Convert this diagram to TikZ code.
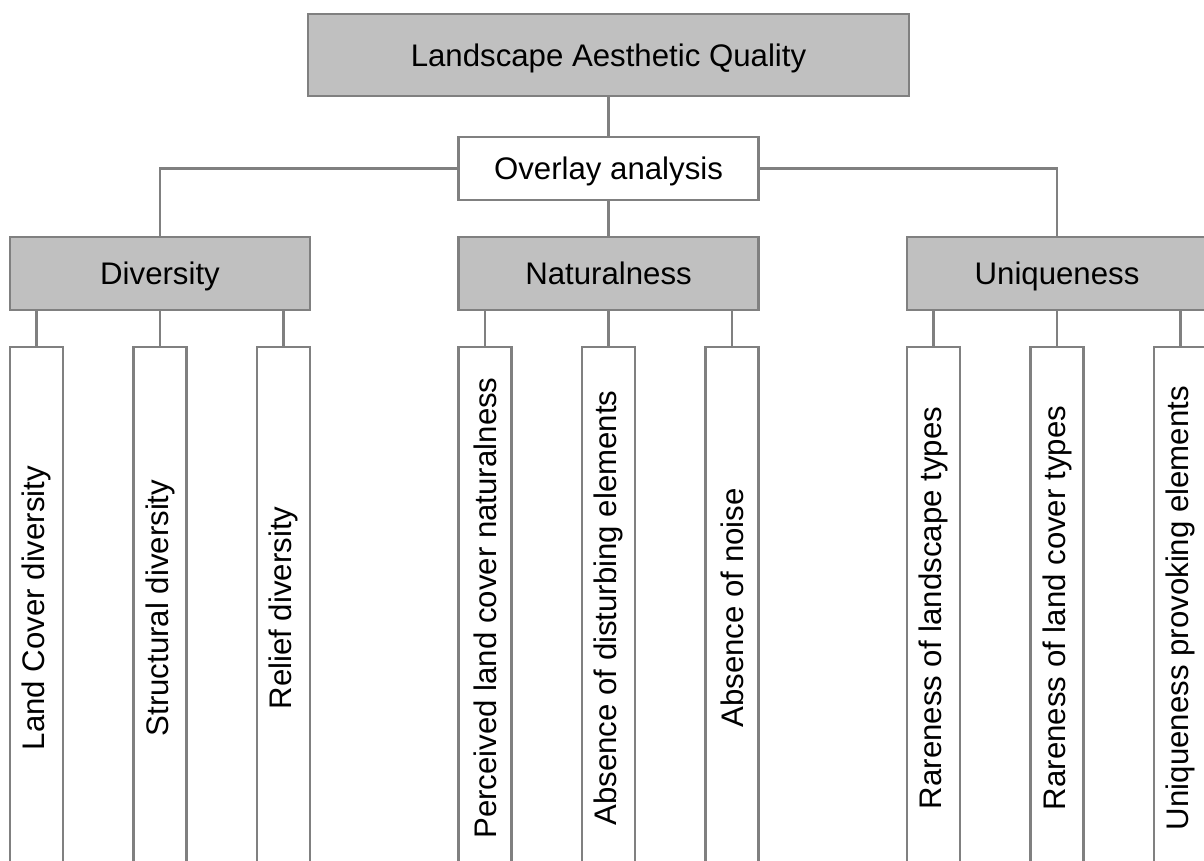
\documentclass[tikz,border=0pt]{standalone}
\usepackage{fontspec}
\setmainfont{Liberation Sans}
\usepackage{graphicx}
\usetikzlibrary{positioning}
\definecolor{boxgray}{HTML}{C0C0C0}
\definecolor{linegray}{HTML}{808080}

\begin{document}
\begin{tikzpicture}[
    font=\fontsize{15.6}{18}\selectfont,
    node distance=18.5pt,
    mainbox/.style={
        rectangle, draw=linegray, fill=boxgray, line width=1.4pt,
        minimum width=150pt, minimum height=36.5pt, outer sep=0pt,
        inner sep=2pt, text height=14.4pt, text depth=3.3pt, align=center
    },
    topbox/.style={mainbox, minimum width=300.5pt, minimum height=41pt},
    methodbox/.style={mainbox, fill=white, minimum height=31.5pt},
    leafbox/.style={
        rectangle, draw=linegray, fill=white, line width=1.4pt,
        minimum width=26.5pt, minimum height=261pt,
        outer sep=0pt, inner sep=0pt
    },
    link/.style={draw=linegray, line width=1.4pt},
]
\useasboundingbox (0,0) rectangle (602pt,-430.5pt);

\node[topbox] (laq) at (304.25pt,-27.5pt) {Landscape Aesthetic Quality};

\node[methodbox, below=20.5pt of laq] (overlay) {Overlay analysis};

\node[mainbox, below=of overlay] (natural) {Naturalness};
\node[mainbox, left=74.25pt of natural] (divers) {Diversity};
\node[mainbox, right=74.25pt of natural] (unique) {Uniqueness};

% Indicators
\node[leafbox, below=of divers.south west, anchor=north west] (landcov) {\rotatebox{90}{Land Cover diversity}};
\node[leafbox, below=of divers] (struct) {\rotatebox{90}{Structural diversity}};
\node[leafbox, below=of divers.south east, anchor=north east] (relief) {\rotatebox{90}{Relief diversity}};

\node[leafbox, below=of natural.south west, anchor=north west] (perceived) {\rotatebox{90}{Perceived land cover naturalness}};
\node[leafbox, below=of natural] (disturb) {\rotatebox{90}{Absence of disturbing elements}};
\node[leafbox, below=of natural.south east, anchor=north east] (noise) {\rotatebox{90}{Absence of noise}};

\node[leafbox, below=of unique.south west, anchor=north west] (rarelsc) {\rotatebox{90}{Rareness of landscape types}};
\node[leafbox, below=of unique] (rarelc) {\rotatebox{90}{Rareness of land cover types}};
\node[leafbox, below=of unique.south east, anchor=north east] (provoke) {\rotatebox{90}{Uniqueness provoking elements}};

% Connectors
\draw[link] (laq) -- (overlay);
\draw[link] (overlay) -- (natural);
\draw[link] (overlay.west) -| (divers.north);
\draw[link] (overlay.east) -| (unique.north);

\draw[link] (landcov.north) -- (landcov.north |- divers.south);
\draw[link] (struct.north) -- (struct.north |- divers.south);
\draw[link] (relief.north) -- (relief.north |- divers.south);
\draw[link] (perceived.north) -- (perceived.north |- natural.south);
\draw[link] (disturb.north) -- (disturb.north |- natural.south);
\draw[link] (noise.north) -- (noise.north |- natural.south);
\draw[link] (rarelsc.north) -- (rarelsc.north |- unique.south);
\draw[link] (rarelc.north) -- (rarelc.north |- unique.south);
\draw[link] (provoke.north) -- (provoke.north |- unique.south);

\end{tikzpicture}
\end{document}
